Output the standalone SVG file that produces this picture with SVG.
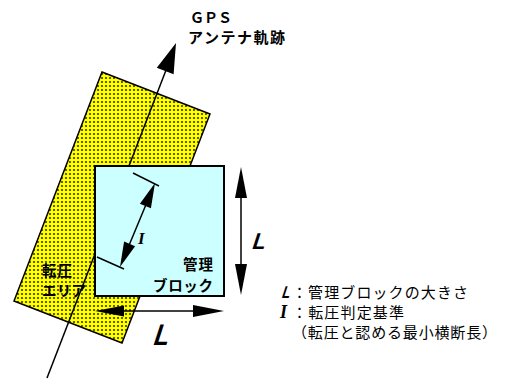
<svg xmlns="http://www.w3.org/2000/svg" width="506" height="379" viewBox="0 0 506 379">
<style>
.jp{font-family:"Noto Sans CJK JP","Noto Sans",sans-serif;fill:#000}
.b{font-weight:bold}
.lab{font-family:"Liberation Sans",Arial,sans-serif;font-weight:bold;fill:#000}
.ser{font-family:"Liberation Serif","Times New Roman",serif;font-style:italic;font-weight:bold;fill:#000}
.ln{stroke:#000;stroke-width:1.5;fill:none}
.hd{fill:#000;stroke:none}
</style>
<defs>
<pattern id="dots" width="4" height="4" patternUnits="userSpaceOnUse">
<rect width="4" height="4" fill="#ffff00"/>
<circle cx="2" cy="2" r="1.1" fill="#3a3a00"/>
</pattern>
</defs>
<g id="area">
<polygon points="102,72 210,114 122,343 14,301" fill="url(#dots)" stroke="#000" stroke-width="1.5"/>
</g>
<g id="connectors">
<line class="ln" x1="47" y1="378" x2="168" y2="65"/>
<polygon class="hd" points="176,43 173.6,74.2 156.8,67.8"/>
</g>
<g id="block">
<rect x="95" y="166" width="129" height="130" fill="#ccffff" stroke="#000" stroke-width="2"/>
</g>
<g id="dims">
<line class="ln" x1="133" y1="173" x2="159" y2="186"/>
<line class="ln" x1="97" y1="257" x2="124" y2="269"/>
<line class="ln" x1="150" y1="195" x2="125" y2="255"/>
<polygon class="hd" points="155,183 150.9,208.3 139.9,203.7"/>
<polygon class="hd" points="120,267 124.1,241.6 135.1,246.2"/>
<line class="ln" x1="241" y1="190" x2="241" y2="272"/>
<polygon class="hd" points="241,167 235,198 247,198"/>
<polygon class="hd" points="241,295 235,264 247,264"/>
<line class="ln" x1="115" y1="311" x2="205" y2="311"/>
<polygon class="hd" points="95,311 124,305.5 124,316.5"/>
<polygon class="hd" points="224,311 193,305 193,317"/>
</g>
<g id="labels">
<text class="jp b" x="190" y="23" font-size="14" textLength="42">ＧＰＳ</text>
<text class="jp b" x="188" y="43" font-size="15" textLength="97">アンテナ軌跡</text>
<text class="jp b" x="183" y="270" font-size="14.5" textLength="30">管理</text>
<text class="jp b" x="153" y="291" font-size="14.5" textLength="60">ブロック</text>
<text class="jp b" x="42" y="276" font-size="14.5" textLength="30">転圧</text>
<text class="jp b" x="42" y="296" font-size="14.5" textLength="44">エリア</text>
<text class="ser" x="138" y="244" font-size="17">I</text>
<text class="lab" transform="translate(251,249) skewX(-18)" font-size="23" textLength="13" lengthAdjust="spacingAndGlyphs">L</text>
<text class="lab" transform="translate(152,345) skewX(-18)" font-size="30" textLength="15" lengthAdjust="spacingAndGlyphs">L</text>
</g>
<g id="legend">
<text class="lab" transform="translate(281,298) skewX(-18)" font-size="17" textLength="8" lengthAdjust="spacingAndGlyphs">L</text>
<text class="jp" x="292" y="298" font-size="15" textLength="176">：管理ブロックの大きさ</text>
<text class="ser" x="280" y="318" font-size="18">I</text>
<text class="jp" x="292" y="318" font-size="15" textLength="112">：転圧判定基準</text>
<text class="jp" x="292" y="338" font-size="15" textLength="205">（転圧と認める最小横断長）</text>
</g>
</svg>
